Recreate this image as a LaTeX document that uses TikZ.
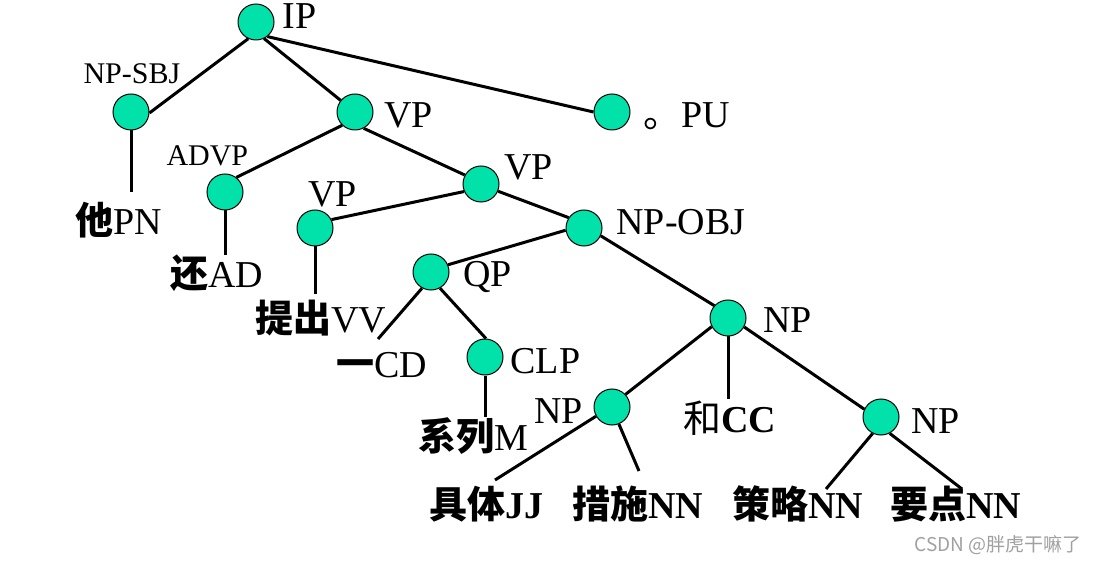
\documentclass[tikz,border=0pt]{standalone}
\usepackage{fontspec}
\setmainfont{Liberation Serif}
\newfontfamily\cjk{Noto Sans CJK SC}
\definecolor{nodegreen}{RGB}{0,226,170}
\definecolor{wmgray}{RGB}{160,160,160}
\begin{document}
\begin{tikzpicture}[x=0.5pt, y=-0.5pt, line width=1.5pt,
	tn/.style={circle, draw=black, line width=0.5pt, fill=nodegreen, minimum size=18pt, inner sep=0pt},
	tag/.style={anchor=base west, inner sep=0pt, font=\fontsize{19}{22}\selectfont},
	smalltag/.style={tag, font=\fontsize{15}{18}\selectfont},
	word/.style={anchor=base west, inner sep=0pt, font=\fontsize{19}{22}\selectfont}]
	\useasboundingbox (0,0) rectangle (1098,561);
	
	% 1. 树的结点
	\node[tn] (ip) at (256,22) {};
	\node[tn] (npsbj) at (131,112) {};
	\node[tn] (vp1) at (355,112) {};
	\node[tn] (pu) at (612,112) {};
	\node[tn] (advp) at (225,192) {};
	\node[tn] (vp2) at (315,228) {};
	\node[tn] (vp3) at (481,184) {};
	\node[tn] (npobj) at (584,228) {};
	\node[tn] (qp) at (431,272) {};
	\node[tn] (clp) at (485,357) {};
	\node[tn] (np) at (728,318) {};
	\node[tn] (npl) at (612,407) {};
	\node[tn] (npr) at (881,417) {};
	
	% 2. 结点标记
	\node[tag] (l-ip) at (281,29) {IP};
	\node[smalltag] (l-npsbj) at (82,84) {NP-SBJ};
	\node[tag] (l-vp1) at (383,128) {VP};
	\node[tag] (l-pu) at (642,128) {{\cjk 。}PU};
	\node[smalltag] (l-advp) at (165,166) {ADVP};
	\node[tag] (l-vp2) at (307,207) {VP};
	\node[tag] (l-vp3) at (503,180) {VP};
	\node[tag] (l-npobj) at (615,235) {NP-OBJ};
	\node[tag] (l-qp) at (462,287) {QP};
	\node[tag] (l-clp) at (509,373) {CLP};
	\node[tag] (l-npl) at (533,423) {NP};
	\node[tag] (l-np) at (762,333) {NP};
	\node[tag] (l-npr) at (910,433) {NP};
	
	% 3. 叶子（词/词性）
	\node[word] (w-ta) at (74,235) {{\cjk\bfseries 他}PN};
	\node[word] (w-hai) at (169,288) {{\cjk\bfseries 还}AD};
	\node[word] (w-tichu) at (254,333) {{\cjk\bfseries 提出}VV};
	\node[word] (w-yi) at (335,378) {{\cjk\bfseries 一}CD};
	\node[word] (w-xilie) at (417,450) {{\cjk\bfseries 系列}M};
	\node[word] (w-he) at (682,432) {{\cjk 和}\textbf{CC}};
	\node[word] (w-juti) at (428,518) {\bfseries{\cjk 具体}JJ};
	\node[word] (w-cuoshi) at (571,518) {\bfseries{\cjk 措施}NN};
	\node[word] (w-celue) at (731,518) {\bfseries{\cjk 策略}NN};
	\node[word] (w-yaodian) at (889,518) {\bfseries{\cjk 要点}NN};
	
	% 叶子连线的端点
	\coordinate (e-ta) at (131,192);
	\coordinate (e-hai) at (225,255);
	\coordinate (e-tichu) at (315,294);
	\coordinate (e-yi) at (378,339);
	\coordinate (e-xilie) at (485,417);
	\coordinate (e-he) at (728,399);
	\coordinate (e-juti) at (495,480);
	\coordinate (e-cuoshi) at (639,471);
	\coordinate (e-celue) at (826,489);
	\coordinate (e-yaodian) at (962,489);
	
	% 4. 连线
	\draw (ip.245) -- (npsbj.-3);
	\draw (ip.-64) -- (vp1.141);
	\draw (ip.-52) -- (pu.180);
	\draw (npsbj.south) -- (e-ta);
	\draw (vp1.226) -- (advp.52);
	\draw (vp1.-62) -- (vp3.151);
	\draw (advp.south) -- (e-hai);
	\draw (vp3.204) -- (vp2.27);
	\draw (vp2.south) -- (e-tichu);
	\draw (vp3.-23) -- (npobj.146);
	\draw (npobj.187) -- (qp.23);
	\draw (npobj.-25) -- (np.138);
	\draw (qp.241) -- (e-yi);
	\draw (qp.-61) -- (clp.87);
	\draw (clp.south) -- (e-xilie);
	\draw (np.208) -- (npl.43);
	\draw (np.south) -- (e-he);
	\draw (np.-29) -- (npr.155);
	\draw (npl.210) -- (e-juti);
	\draw (npl.-68) -- (e-cuoshi);
	\draw (npr.243) -- (e-celue);
	\draw (npr.-62) -- (e-yaodian);
	
	% 5. 水印
	\node[anchor=base west, inner sep=0pt, text=wmgray, font=\cjk\fontsize{9.5}{11}\selectfont] (wm) at (913,551) {CSDN @胖虎干嘛了};
\end{tikzpicture}
\end{document}
